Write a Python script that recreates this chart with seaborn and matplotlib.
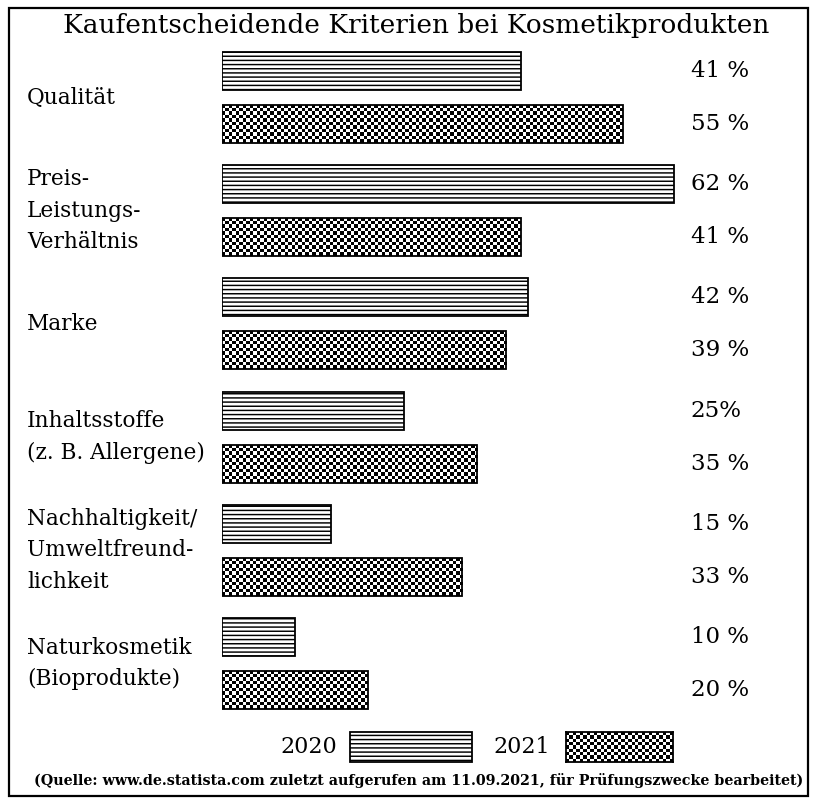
import matplotlib
matplotlib.use("Agg")
import matplotlib.pyplot as plt
import numpy as np
import pandas as pd
import seaborn as sns
from matplotlib.patches import Rectangle

# data
categories = [
    "Qualität",
    "Preis-\nLeistungs-\nVerhältnis",
    "Marke",
    "Inhaltsstoffe\n(z. B. Allergene)",
    "Nachhaltigkeit/\nUmweltfreund-\nlichkeit",
    "Naturkosmetik\n(Bioprodukte)",
]
years = ["2020", "2021"]
values_2020 = [41, 62, 42, 25, 15, 10]
values_2021 = [55, 41, 39, 35, 33, 20]
labels_2020 = ["41 %", "62 %", "42 %", "25%", "15 %", "10 %"]
labels_2021 = ["55 %", "41 %", "39 %", "35 %", "33 %", "20 %"]

title = "Kaufentscheidende Kriterien bei Kosmetikprodukten"
source = "(Quelle: www.de.statista.com zuletzt aufgerufen am 11.09.2021, für Prüfungszwecke bearbeitet)"

df = pd.DataFrame({
    "Kriterium": categories * 2,
    "Jahr": [years[0]] * len(categories) + [years[1]] * len(categories),
    "Wert": values_2020 + values_2021,
})

sns.set_theme(style="white")
plt.rcParams["font.family"] = ["DejaVu Serif"]
plt.rcParams["text.color"] = "black"
plt.rcParams["hatch.linewidth"] = 1.05
plt.rcParams["hatch.color"] = "black"

W, H = 817, 809
fig = plt.figure(figsize=(W / 100, H / 100), dpi=100)
ax = fig.add_axes([222 / W, 1 - 720.1 / H, 583 / W, 679.2 / H])

sns.barplot(df, y="Kriterium", x="Wert", hue="Jahr", orient="h", width=0.938,
            gap=0.284, palette=["white", "white"], edgecolor="black",
            linewidth=1.3, legend=False, ax=ax)
ax.set_xlim(0, 80)
ax.set_ylim(5.5, -0.5)
ax.axis("off")


def checker(rows, cols):
    r, c = np.indices((rows, cols))
    return ((r + c) % 2).astype(float)


rows = 11
cell = 38 / rows
bars_2020, bars_2021 = ax.containers[0], ax.containers[1]
for p in bars_2020:
    p.set_hatch("----")
for p in bars_2021:
    bb = p.get_window_extent()
    cols = max(int(round(bb.width / cell)), 1)
    x0, y0 = p.get_x(), p.get_y()
    im = ax.imshow(checker(rows, cols), cmap="gray", interpolation="nearest",
                   aspect="auto", vmin=0, vmax=1,
                   extent=(x0, x0 + p.get_width(), y0 + p.get_height(), y0),
                   zorder=p.get_zorder() + 0.1)
    im.set_clip_path(p)
    p.set_zorder(p.get_zorder() + 0.2)
    p.set_facecolor("none")
ax.set_xlim(0, 80)
ax.set_ylim(5.5, -0.5)

for bars, labels in [(bars_2020, labels_2020), (bars_2021, labels_2021)]:
    for p, lab in zip(bars, labels):
        ax.text(64.3, p.get_y() + p.get_height() / 2, lab, ha="left",
                va="center", fontsize=16.5)

trans = ax.get_yaxis_transform()
for i, cat in enumerate(categories):
    ax.text((27 - 222) / 583, i, cat, transform=trans, ha="left",
            va="center", fontsize=15.6, linespacing=1.55, clip_on=False)

fig.text(416 / W, 1 - 25 / H, title, ha="center", va="center", fontsize=19)

# legend
fig.text(280 / W, 1 - 747 / H, years[0], ha="left", va="center", fontsize=16)
fig.patches.append(Rectangle((350 / W, 1 - 762 / H), 122 / W, 30 / H,
                             transform=fig.transFigure, facecolor="white",
                             edgecolor="black", linewidth=1.3, hatch="----"))
fig.text(493 / W, 1 - 747 / H, years[1], ha="left", va="center", fontsize=16)
lax = fig.add_axes([566 / W, 1 - 762 / H, 107 / W, 30 / H])
lax.imshow(checker(9, 31), cmap="gray", interpolation="nearest",
           aspect="auto", vmin=0, vmax=1)
lax.set_xticks([])
lax.set_yticks([])
for s in lax.spines.values():
    s.set_color("black")
    s.set_linewidth(1.3)

fig.text(419 / W, 1 - 780 / H, source, ha="center", va="center",
         fontsize=10.25, fontweight="bold")

fig.patches.append(Rectangle((9 / W, 1 - 796 / H), 799 / W, 788 / H,
                             transform=fig.transFigure, facecolor="none",
                             edgecolor="black", linewidth=1.6))

fig.savefig("out.png", dpi=100)
